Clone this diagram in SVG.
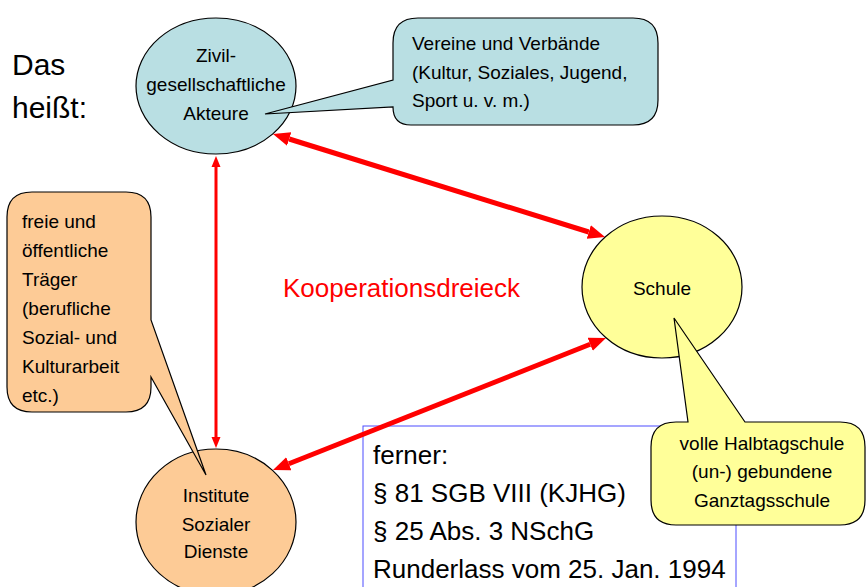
<svg xmlns="http://www.w3.org/2000/svg" width="867" height="587" viewBox="0 0 867 587">
<style>
  text { font-family: "Liberation Sans", Arial, sans-serif; fill: #000; }
  .lbl { font-size: 19px; }
  .mid { text-anchor: middle; }
  .node { stroke: #000; stroke-width: 1.2; }
  .blue { fill: #b9dfe3; }
  .orange { fill: #fdcb96; }
  .yellow { fill: #ffff99; }
  .thick { stroke: #ff0000; stroke-width: 5; fill: none; marker-start: url(#ah); marker-end: url(#ah); }
  .thin { stroke: #ff0000; stroke-width: 3; fill: none; marker-start: url(#ahs); marker-end: url(#ahs); }
</style>
<defs>
  <marker id="ah" markerUnits="userSpaceOnUse" markerWidth="18" markerHeight="16" viewBox="0 -8 18 16" refX="0" refY="0" orient="auto-start-reverse">
    <path d="M0,-7 L17,0 L0,7 Z" fill="#ff0000"/>
  </marker>
  <marker id="ahs" markerUnits="userSpaceOnUse" markerWidth="12" markerHeight="12" viewBox="0 -6 12 12" refX="0" refY="0" orient="auto-start-reverse">
    <path d="M0,-4.5 L11,0 L0,4.5 Z" fill="#ff0000"/>
  </marker>
</defs>
<rect width="867" height="587" fill="#ffffff"/>

<g id="title">
  <text x="12" y="75" font-size="30">Das</text>
  <text x="12" y="118" font-size="30">heißt:</text>
</g>

<g id="label-kooperationsdreieck">
  <text x="283" y="297" font-size="26" style="fill:#ff0000">Kooperationsdreieck</text>
</g>

<g id="node-zivil">
  <ellipse class="node blue" cx="216" cy="86" rx="80" ry="68"/>
  <text class="lbl mid" x="216" y="62">Zivil-</text>
  <text class="lbl mid" x="216" y="91">gesellschaftliche</text>
  <text class="lbl mid" x="216" y="120">Akteure</text>
</g>

<g id="callout-vereine">
  <path class="node blue" d="M418,18 H633 Q658,18 658,43 V100 Q658,125 633,125 H411 Q393,125 393,107 L265,114 L393,80 V43 Q393,18 418,18 Z"/>
  <text class="lbl" x="412" y="50">Vereine und Verbände</text>
  <text class="lbl" x="412" y="79">(Kultur, Soziales, Jugend,</text>
  <text class="lbl" x="412" y="107">Sport u. v. m.)</text>
</g>

<g id="node-schule">
  <ellipse class="node yellow" cx="662" cy="287" rx="80" ry="71"/>
  <text class="lbl mid" x="662" y="295">Schule</text>
</g>

<g id="node-institute">
  <ellipse class="node orange" cx="216" cy="522" rx="80" ry="73"/>
  <text class="lbl mid" x="216" y="502">Institute</text>
  <text class="lbl mid" x="216" y="531">Sozialer</text>
  <text class="lbl mid" x="216" y="558">Dienste</text>
</g>

<g id="callout-traeger">
  <path class="node orange" d="M32,192 H126 Q151,192 151,217 V320 L206,475 L151,377 V387 Q151,412 126,412 H32 Q7,412 7,387 V217 Q7,192 32,192 Z"/>
  <text class="lbl" x="22" y="228">freie und</text>
  <text class="lbl" x="22" y="257">öffentliche</text>
  <text class="lbl" x="22" y="286">Träger</text>
  <text class="lbl" x="22" y="315">(berufliche</text>
  <text class="lbl" x="22" y="344">Sozial- und</text>
  <text class="lbl" x="22" y="373">Kulturarbeit</text>
  <text class="lbl" x="22" y="402">etc.)</text>
</g>

<g id="box-ferner">
  <rect x="363" y="426" width="373" height="200" fill="#ffffff" stroke="#4d4dff" stroke-width="1"/>
  <text x="373" y="464" font-size="26">ferner:</text>
  <text x="373" y="502" font-size="26">§ 81 SGB VIII (KJHG)</text>
  <text x="373" y="540" font-size="26">§ 25 Abs. 3 NSchG</text>
  <text x="373" y="578" font-size="26">Runderlass vom 25. Jan. 1994</text>
</g>

<g id="callout-schulform">
  <path class="node yellow" d="M676,422 H688 L674,318 L745,422 H840 Q865,422 865,447 V500 Q865,525 840,525 H676 Q651,525 651,500 V447 Q651,422 676,422 Z"/>
  <text class="lbl mid" x="762" y="450">volle Halbtagschule</text>
  <text class="lbl mid" x="762" y="478">(un-) gebundene</text>
  <text class="lbl mid" x="762" y="507">Ganztagsschule</text>
</g>

<g id="connectors">
  <line class="thick" x1="289.2" y1="139" x2="588.8" y2="232"/>
  <line class="thick" x1="590.2" y1="344.3" x2="288.8" y2="463.7"/>
  <line class="thin" x1="216" y1="167" x2="216" y2="437"/>
</g>
</svg>
